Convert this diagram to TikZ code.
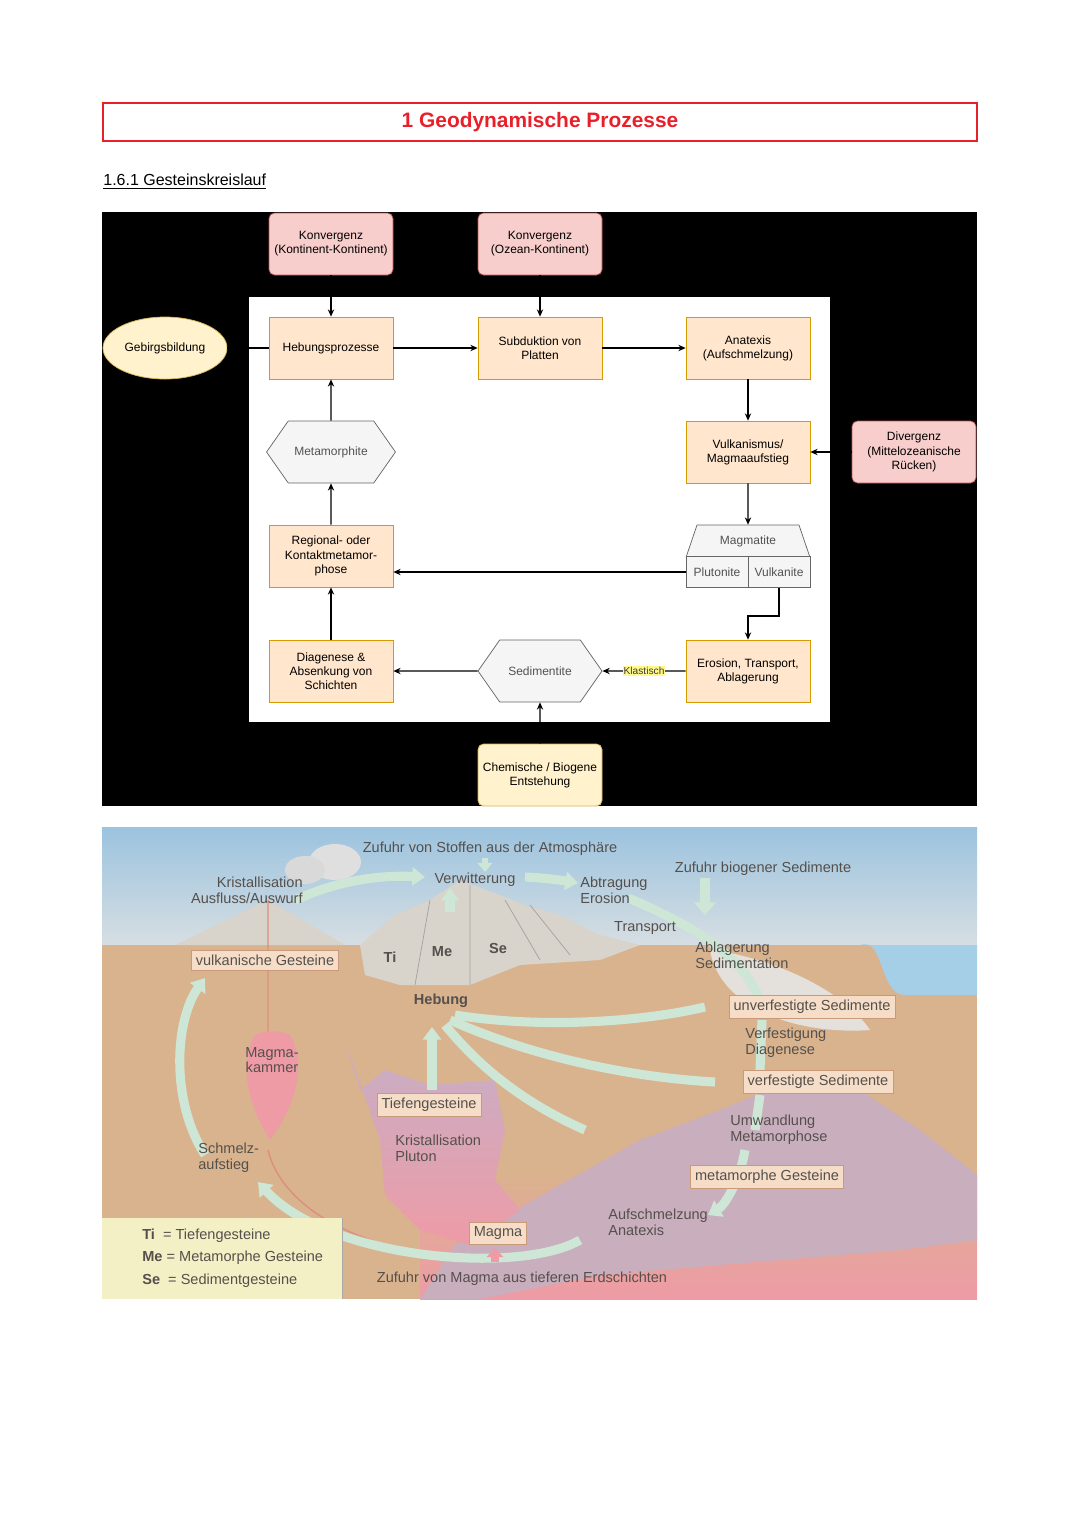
\documentclass[tikz,border=0pt]{standalone}
\usepackage{fontspec}
\setmainfont{Liberation Sans}
\usetikzlibrary{positioning, shapes.geometric, shapes.symbols, arrows.meta}
\definecolor{convfill}{HTML}{F8CECC}
\definecolor{convdraw}{HTML}{B85450}
\definecolor{procfill}{HTML}{FFE6CC}
\definecolor{procdraw}{HTML}{D79B00}
\definecolor{startfill}{HTML}{FFF2CC}
\definecolor{startdraw}{HTML}{D6B656}
\definecolor{rockfill}{HTML}{F5F5F5}
\definecolor{rockdraw}{HTML}{666666}
\definecolor{titlered}{HTML}{E8202A}
\definecolor{skytop}{HTML}{9CC3DF}
\definecolor{skybot}{HTML}{D6DEE2}
\definecolor{earth}{HTML}{D9B38E}
\definecolor{sea}{HTML}{A5CFE6}
\definecolor{magma}{HTML}{EE9BA6}
\definecolor{metam}{HTML}{C9AEBE}
\definecolor{pluton}{HTML}{C6AFC6}
\definecolor{mount}{HTML}{D8D3CB}
\definecolor{cycle}{HTML}{CDE6D6}
\definecolor{labfill}{HTML}{F6DDC8}
\definecolor{labdraw}{HTML}{C99A7A}
\definecolor{legfill}{HTML}{F4F0C6}
\definecolor{txt}{HTML}{55504C}

\begin{document}
\begin{tikzpicture}[x=0.55pt, y=-0.55pt,
    conv/.style={rectangle, rounded corners=3pt, draw=convdraw, fill=convfill, minimum width=68.2pt, minimum height=34.1pt, font=\fontsize{6.6}{7.8}\selectfont, align=center, inner sep=1pt},
    proc/.style={rectangle, draw=procdraw, fill=procfill, minimum width=68.2pt, minimum height=34.1pt, font=\fontsize{6.6}{7.8}\selectfont, align=center, inner sep=1pt},
    start/.style={ellipse, draw=startdraw, fill=startfill, minimum width=68.2pt, minimum height=34.1pt, inner sep=0pt, font=\fontsize{6.6}{7.8}\selectfont, align=center},
    rock/.style={signal, signal to=east and west, signal pointer angle=110, draw=rockdraw, fill=rockfill, minimum width=68.2pt, minimum height=34.1pt, font=\fontsize{6.6}{7.8}\selectfont, text=rockdraw!80!black},
    cell/.style={rectangle, draw=rockdraw, fill=rockfill, minimum width=34.1pt, minimum height=17pt, font=\fontsize{6.6}{7.8}\selectfont, text=rockdraw!80!black, inner sep=0pt},
    arr/.style={-{Stealth[length=4pt,width=3.5pt]}, line width=0.6pt},
    klast/.style={fill=yellow!45, font=\fontsize{5.6}{6.5}\selectfont, inner sep=0.5pt, text=black!70!yellow!40!black},
    cyc/.style={line width=5pt, draw=cycle, -{Triangle[length=7pt,width=10pt]}},
    fan/.style={line width=5pt, draw=cycle},
    lab/.style={font=\fontsize{8}{8.6}\selectfont, text=txt, align=left, inner sep=0pt},
    lbox/.style={rectangle, draw=labdraw, fill=labfill, font=\fontsize{8}{9}\selectfont, text=txt, inner sep=2.5pt, minimum height=11pt}
]
    \useasboundingbox (0,0) rectangle (1080,1527);

    % Header
    \node[draw=titlered, line width=0.8pt, minimum width=480.7pt, minimum height=20.9pt,
          text=titlered, font=\bfseries\fontsize{11.5}{13}\selectfont] (title) at (540,122) {1 Geodynamische Prozesse};
    \node[anchor=west, font=\fontsize{8.8}{10}\selectfont, inner sep=0pt] (sub) at (103,182) {\underline{1.6.1 Gesteinskreislauf}};

    % Flowchart background
    \fill[black] (102,212) rectangle (977,806);
    \fill[white] (249,297) rectangle (830,722);

    % Nodes
    \node[conv] (kk) at (331,244) {Konvergenz\\(Kontinent-Kontinent)};
    \node[conv] (ok) at (540,244) {Konvergenz\\(Ozean-Kontinent)};
    \node[start] (gebirge) at (165,348) {Gebirgsbildung};
    \node[proc] (hebung) at (331,348) {Hebungsprozesse};
    \node[proc] (subd) at (540,348) {Subduktion von\\Platten};
    \node[proc] (anatex) at (748,348) {Anatexis\\(Aufschmelzung)};
    \node[rock] (meta) at (331,452) {Metamorphite};
    \node[proc] (vulkan) at (748,452) {Vulkanismus/\\Magmaaufstieg};
    \node[conv] (diverg) at (914,452) {Divergenz\\(Mittelozeanische\\Rücken)};
    \node[proc] (regio) at (331,556) {Regional- oder\\Kontaktmetamor-\\phose};
    \node[trapezium, trapezium stretches=true, trapezium left angle=62, trapezium right angle=62,
          draw=rockdraw, fill=rockfill, minimum width=68.2pt, minimum height=17.6pt, inner sep=0pt,
          font=\fontsize{6.6}{7.8}\selectfont, text=rockdraw!80!black] (magmat) at (748,541) {Magmatite};
    \node[cell] (pluto) at (717,572) {Plutonite};
    \node[cell] (vulka) at (779,572) {Vulkanite};
    \node[proc] (diag) at (331,671) {Diagenese \&\\Absenkung von\\Schichten};
    \node[rock] (sedi) at (540,671) {Sedimentite};
    \node[proc] (eros) at (748,671) {Erosion, Transport,\\Ablagerung};
    \node[start, rectangle, rounded corners=3pt, inner sep=1pt] (chem) at (540,775) {Chemische / Biogene\\Entstehung};
    \coordinate (bend) at (779,616);

    % Arrows
    \draw[line width=0.6pt] (gebirge) -- (hebung);
    \draw[arr] (kk) -- (hebung);
    \draw[arr] (ok) -- (subd);
    \draw[arr] (hebung) -- (subd);
    \draw[arr] (subd) -- (anatex);
    \draw[arr] (anatex) -- (vulkan);
    \draw[arr] (diverg) -- (vulkan);
    \draw[arr] (vulkan) -- (magmat);
    \draw[arr] (pluto.west) -- (pluto.west -| regio.east);
    \draw[arr] (vulka.south) -- (bend) -| (eros.north);
    \draw[arr] (eros) -- node[klast]{Klastisch} (sedi);
    \draw[arr] (sedi) -- (diag);
    \draw[arr] (chem) -- (sedi);
    \draw[arr] (diag) -- (regio);
    \draw[arr] (regio) -- (meta);
    \draw[arr] (meta) -- (hebung);

    % Illustration: ground, sky, sea
    \shade[top color=skytop, bottom color=skybot] (102,827) rectangle (977,945);
    \fill[earth] (102,945) rectangle (977,1299);
    \fill[sea] (860,945) -- (977,945) -- (977,995) -- (905,995) to[out=180,in=20] (860,945);
    \shade[top color=earth, bottom color=magma] (420,1170) rectangle (977,1299);
    \fill[metam] (420,1299) -- (455,1245) -- (560,1185) -- (640,1140) -- (720,1110) -- (780,1085)
        -- (860,1090) -- (920,1130) -- (977,1175) -- (977,1240) -- (900,1250) -- (780,1260) -- (600,1275) -- (480,1299) -- cycle;
    \shade[top color=pluton, bottom color=magma] (345,1040) -- (360,1090) -- (385,1070) -- (430,1085) -- (495,1080)
        -- (505,1130) -- (495,1180) -- (520,1210) -- (470,1245) -- (420,1230) -- (385,1195) -- (380,1140) -- cycle;
    \fill[mount] (360,945) -- (395,915) -- (430,900) -- (460,880) -- (500,895) -- (525,905) -- (560,915)
        -- (600,935) -- (640,945) -- (600,960) -- (520,965) -- (470,985) -- (400,985) -- (365,975) -- cycle;
    \draw[rockdraw!60] (430,900) -- (415,985) (470,885) -- (470,985) (505,900) -- (540,960) (530,905) -- (570,955);
    \fill[mount] (175,945) -- (268,900) -- (345,945) -- cycle;
    \fill[mount!70] (710,950) .. controls (760,955) and (840,985) .. (870,1030) .. controls (800,1035) and (720,1010) .. (710,950);
    \fill[gray!25] (335,862) ellipse (26 and 18);
    \fill[gray!30] (305,870) ellipse (20 and 14);
    \draw[magma!60!brown, line width=0.8pt] (268,900) -- (268,1035) (268,1150) .. controls (280,1200) and (340,1240) .. (430,1255);
    \fill[magma] (255,1035) .. controls (240,1060) and (245,1100) .. (270,1140) .. controls (300,1100) and (305,1060) .. (290,1035) .. controls (280,1030) and (265,1030) .. (255,1035);

    % Illustration: cycle arrows
    \draw[cyc] (295,900) .. controls (340,880) and (380,875) .. (425,877);
    \draw[cyc] (525,877) .. controls (545,878) and (560,880) .. (578,883);
    \draw[fan] (628,898) .. controls (680,920) and (740,950) .. (760,1000);
    \draw[fan] (762,1020) -- (760,1070);
    \draw[fan] (760,1095) -- (755,1130);
    \draw[cyc] (745,1150) .. controls (740,1180) and (725,1205) .. (708,1215);
    \draw[cyc] (580,1240) .. controls (520,1275) and (330,1260) .. (258,1182);
    \draw[cyc] (205,1155) .. controls (170,1100) and (175,1020) .. (205,978);
    \draw[cyc] (432,1090) -- (432,1027);
    \draw[cyc] (450,912) -- (450,888);
    \draw[fan] (455,1015) .. controls (550,1030) and (650,1020) .. (705,1007);
    \draw[fan] (450,1020) .. controls (540,1060) and (640,1078) .. (715,1082);
    \draw[fan] (445,1025) .. controls (490,1080) and (540,1110) .. (585,1130);
    \draw[cycle, line width=3pt, -{Triangle[length=5pt,width=8pt]}] (485,858) -- (485,872);
    \draw[cycle, line width=5pt, -{Triangle[length=7pt,width=12pt]}] (705,878) -- (705,915);
    \draw[magma, line width=4pt, -{Triangle[length=5pt,width=9pt]}] (495,1262) -- (495,1248);

    % Illustration: labels
    \node[lab] (atmo) at (490,849) {Zufuhr von Stoffen aus der Atmosphäre};
    \node[lab] (verw) at (475,880) {Verwitterung};
    \node[lab, align=right, anchor=east] (krist) at (303,890) {Kristallisation\\Ausfluss/Auswurf};
    \node[lab, anchor=west] (abtr) at (580,890) {Abtragung\\Erosion};
    \node[lab] (biog) at (763,869) {Zufuhr biogener Sedimente};
    \node[lab] (transp) at (645,928) {Transport};
    \node[lab, anchor=west] (ablag) at (695,955) {Ablagerung\\Sedimentation};
    \node[lbox] (vulkg) at (265,960) {vulkanische Gesteine};
    \node[lab, font=\bfseries\fontsize{8}{9}\selectfont] (ti) at (390,957) {Ti};
    \node[lab, font=\bfseries\fontsize{8}{9}\selectfont] (me) at (442,952) {Me};
    \node[lab, font=\bfseries\fontsize{8}{9}\selectfont] (se) at (498,948) {Se};
    \node[lab, font=\bfseries\fontsize{8}{9}\selectfont] (heb) at (441,1001) {Hebung};
    \node[lbox] (unverf) at (812,1007) {unverfestigte Sedimente};
    \node[lab, anchor=west] (verf) at (745,1043) {Verfestigung\\Diagenese};
    \node[lbox] (verfs) at (818,1082) {verfestigte Sedimente};
    \node[lab, align=center] (kammer) at (272,1060) {Magma-\\kammer};
    \node[lbox] (tief) at (429,1105) {Tiefengesteine};
    \node[lab, anchor=west] (plut) at (395,1148) {Kristallisation\\Pluton};
    \node[lab, anchor=west] (schm) at (198,1158) {Schmelz-\\aufstieg};
    \node[lab, anchor=west] (umw) at (730,1130) {Umwandlung\\Metamorphose};
    \node[lbox] (metg) at (767,1177) {metamorphe Gesteine};
    \node[lab, anchor=west] (aufs) at (608,1222) {Aufschmelzung\\Anatexis};
    \node[lbox] (magm) at (498,1233) {Magma};
    \node[lab] (zuma) at (522,1279) {Zufuhr von Magma aus tieferen Erdschichten};

    % Legend
    \fill[legfill] (102,1218) rectangle (342,1299);
    \draw[txt!50] (342,1218) -- (342,1299);
    \node[lab, anchor=west] (leg1) at (142,1236) {\textbf{Ti}\ \ = Tiefengesteine};
    \node[lab, anchor=west] (leg2) at (142,1258) {\textbf{Me} = Metamorphe Gesteine};
    \node[lab, anchor=west] (leg3) at (142,1281) {\textbf{Se}\ \ = Sedimentgesteine};
\end{tikzpicture}
\end{document}
